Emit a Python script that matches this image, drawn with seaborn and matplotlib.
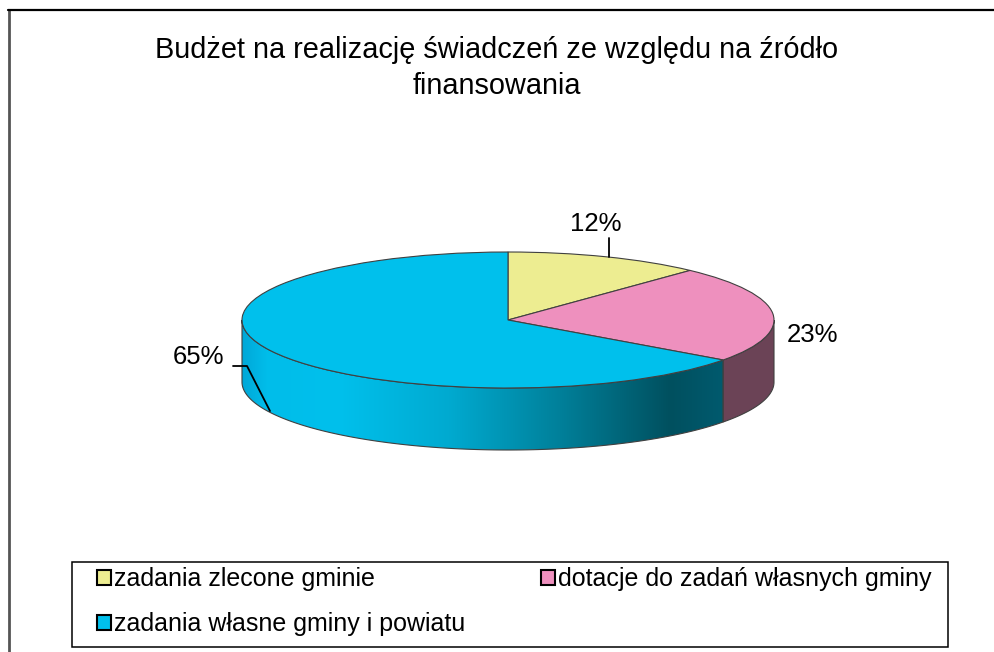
import numpy as np
import seaborn as sns
import matplotlib
matplotlib.use("Agg")
import matplotlib.pyplot as plt
from matplotlib.patches import Polygon, Patch, Rectangle
from matplotlib.transforms import Affine2D
from matplotlib.colors import LinearSegmentedColormap

sns.set_theme(style="white")
plt.rcParams["font.family"] = ["Liberation Sans", "DejaVu Sans"]
plt.rcParams["text.color"] = "black"

# data
categories = ["zadania zlecone gminie", "dotacje do zadań własnych gminy", "zadania własne gminy i powiatu"]
shares = [12, 23, 65]
top_colors = ["#EDED91", "#EE90BE", "#00C0EC"]
side_colors = ["#8C8C50", "#6B4356", None]   # blue side gets a gradient
title = "Budżet na realizację świadczeń ze względu na źródło\nfinansowania"

W, H = 994, 652
fig = plt.figure(figsize=(W / 100, H / 100), dpi=100)
ax = fig.add_axes([0, 0, 1, 1])

# pie geometry (pixels)
cx, cy, a, b, depth = 508, 320, 266, 68, 62

wedges, _ = ax.pie(shares, colors=top_colors, startangle=90, counterclock=False,
                   radius=1, center=(0, 0),
                   wedgeprops=dict(edgecolor="#404040", linewidth=0.8))
ax.set_aspect("auto")
ax.axis("off")

squash = Affine2D().scale(a, -b).translate(cx, cy) + ax.transData
for w in wedges:
    w.set_transform(squash)
    w.set_zorder(3)

# side walls, built from the same angles the pie uses
bounds = 90 - 360 * np.concatenate([[0], np.cumsum(shares)]) / sum(shares)
blue_cmap = LinearSegmentedColormap.from_list("side", [
    (0.00, "#00A8D8"), (0.05, "#00BDEA"), (0.20, "#00C0EC"), (0.43, "#00AAD0"),
    (0.66, "#00809A"), (0.89, "#00505F"), (1.00, "#005A6E")])

for i in range(len(shares)):
    t_hi, t_lo = bounds[i], bounds[i + 1]
    lo, hi = t_lo % 360, (t_lo % 360) + (t_hi - t_lo)
    s0, s1 = max(lo, 180), min(hi, 360)
    if s1 <= s0:
        continue
    t = np.radians(np.linspace(s0, s1, 200))
    xs = cx + a * np.cos(t)
    ys = cy - b * np.sin(t)
    pts = np.column_stack([np.concatenate([xs, xs[::-1]]),
                           np.concatenate([ys, ys[::-1] + depth])])
    if side_colors[i] is None:
        poly = Polygon(pts, closed=True, facecolor="none", edgecolor="#404040",
                       linewidth=0.8, zorder=2)
        ax.add_patch(poly)
        grad = np.linspace(0, 1, 256).reshape(1, -1)
        im = ax.imshow(grad, cmap=blue_cmap, aspect="auto",
                       extent=(xs.min(), xs.max(), cy + b + depth + 2, cy - 2), zorder=1)
        im.set_clip_path(poly)
    else:
        ax.add_patch(Polygon(pts, closed=True, facecolor=side_colors[i],
                             edgecolor="#404040", linewidth=0.8, zorder=2))

ax.set_xlim(0, W)
ax.set_ylim(H, 0)

# percentage labels with leader lines
label_pos = [(596, 224), (812, 335), (199, 357)]
for v, (lx, ly) in zip(shares, label_pos):
    ax.text(lx, ly, f"{v}%", ha="center", va="center", fontsize=18.5, zorder=5)
ax.plot([609, 609], [238, 257], color="black", lw=1.3, zorder=5)
ax.plot([233, 247, 270], [366, 366, 411], color="black", lw=1.3, zorder=5)

# title
lines = title.split("\n")
ax.text(497, 50, lines[0], ha="center", va="center", fontsize=20.8, zorder=5)
ax.text(497, 86, lines[1], ha="center", va="center", fontsize=20.8, zorder=5)

# chart frame (partly cut off in the original)
ax.plot([8.5, 8.5], [H + 5, 10], color="#555555", lw=2.0, zorder=5, clip_on=False)
ax.plot([8, W + 5], [10, 10], color="black", lw=1.6, zorder=5, clip_on=False)

# legend box and entries
ax.add_patch(Rectangle((72, 562), 948 - 72, 647 - 562, facecolor="white",
                       edgecolor="black", linewidth=1.1, zorder=4))
handles = [Patch(facecolor=c, edgecolor="black", linewidth=1.5) for c in top_colors]
order = [0, 2, 1]
leg = fig.legend([handles[k] for k in order], [categories[k] for k in order],
                 ncol=2, mode="expand", loc="center left",
                 bbox_to_anchor=(97 / W, 1 - 646 / H, (932 - 97) / W, (646 - 557) / H),
                 frameon=False, fontsize=18,
                 handlelength=0.55, handleheight=0.55, handletextpad=0.15,
                 borderpad=0, labelspacing=0.85, borderaxespad=0)

fig.savefig("out.png", dpi=100, facecolor="white")
